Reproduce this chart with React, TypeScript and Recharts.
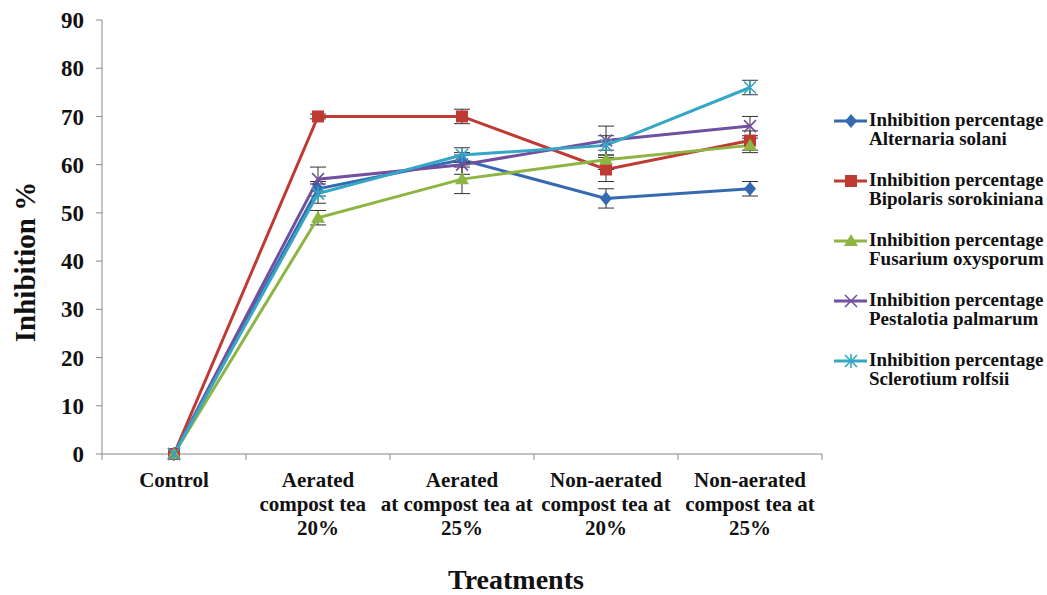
import React from "react";
import { LineChart, Line, XAxis, YAxis, ErrorBar, Label } from "recharts";

const categories = [
  "Control",
  "Aerated compost tea 20%",
  "Aerated at compost tea at 25%",
  "Non-aerated compost tea at 20%",
  "Non-aerated compost tea at 25%",
];
const categoryLines = [
  ["Control"],
  ["Aerated", "compost tea\u00a0\u00a0", "20%"],
  ["Aerated", "at compost tea at\u00a0\u00a0", "25%"],
  ["Non-aerated", "compost tea at", "20%"],
  ["Non-aerated", "compost tea at", "25%"],
];
const alternaria = [0, 55, 61, 53, 55];
const alternariaErr = [0, 1.5, 1.5, 2, 1.5];
const bipolaris = [0, 70, 70, 59, 65];
const bipolarisErr = [0, 0.5, 1.5, 2.5, 2];
const fusarium = [0, 49, 57, 61, 64];
const fusariumErr = [0, 1.5, 3, 2, 1.5];
const pestalotia = [0, 57, 60, 65, 68];
const pestalotiaErr = [0, 2.5, 2, 3, 2];
const sclerotium = [0, 54, 62, 64, 76];
const sclerotiumErr = [0, 2, 1.5, 2, 1.5];
const yTicks = [0, 10, 20, 30, 40, 50, 60, 70, 80, 90];

const seriesInfo = [
  { key: "a", name: "Alternaria solani", color: "#3569B0", marker: "diamond" },
  { key: "b", name: "Bipolaris sorokiniana", color: "#BE3A33", marker: "square" },
  { key: "f", name: "Fusarium oxysporum", color: "#8DB543", marker: "triangle" },
  { key: "p", name: "Pestalotia palmarum", color: "#7150A0", marker: "x" },
  { key: "s", name: "Sclerotium rolfsii", color: "#35A6C4", marker: "star" },
];

const data = categories.map((c, i) => ({
  name: c,
  a: alternaria[i], aErr: alternariaErr[i],
  b: bipolaris[i], bErr: bipolarisErr[i],
  f: fusarium[i], fErr: fusariumErr[i],
  p: pestalotia[i], pErr: pestalotiaErr[i],
  s: sclerotium[i], sErr: sclerotiumErr[i],
}));

const serif = "'Liberation Serif', 'Times New Roman', serif";

function Marker({ cx, cy, color, marker }: any) {
  if (cx == null || cy == null) return null;
  if (marker === "diamond")
    return <path d={`M${cx},${cy - 7}L${cx + 6},${cy}L${cx},${cy + 7}L${cx - 6},${cy}Z`} fill={color} />;
  if (marker === "square")
    return <rect x={cx - 6} y={cy - 6} width={12} height={12} fill={color} />;
  if (marker === "triangle")
    return <path d={`M${cx},${cy - 7}L${cx + 7},${cy + 5}L${cx - 7},${cy + 5}Z`} fill={color} />;
  if (marker === "x")
    return (
      <g stroke={color} strokeWidth={1.6}>
        <line x1={cx - 6} y1={cy - 6} x2={cx + 6} y2={cy + 6} />
        <line x1={cx - 6} y1={cy + 6} x2={cx + 6} y2={cy - 6} />
      </g>
    );
  return (
    <g stroke={color} strokeWidth={1.6}>
      <line x1={cx - 6} y1={cy - 6} x2={cx + 6} y2={cy + 6} />
      <line x1={cx - 6} y1={cy + 6} x2={cx + 6} y2={cy - 6} />
      <line x1={cx} y1={cy - 7} x2={cx} y2={cy + 7} />
    </g>
  );
}

function XTick(props: any) {
  const { x, y, payload, index } = props;
  const off = payload && payload.offset ? payload.offset : 72;
  const lines = categoryLines[index] || [String(payload.value)];
  return (
    <g>
      <line x1={x - off} y1={y - 8} x2={x - off} y2={y - 2} stroke="#888" />
      {index === categories.length - 1 && (
        <line x1={x + off} y1={y - 8} x2={x + off} y2={y - 2} stroke="#888" />
      )}
      <text x={x} y={y} textAnchor="middle" fontFamily={serif} fontWeight="bold" fontSize={21} fill="#111" style={{ whiteSpace: "pre" }}>
        {lines.map((l, i) => (
          <tspan key={i} x={x} dy={i === 0 ? 25 : 24}>
            {l}
          </tspan>
        ))}
      </text>
    </g>
  );
}

function YLabel({ viewBox }: any) {
  const cy = viewBox ? viewBox.y + viewBox.height / 2 + 25 : 262;
  return (
    <text
      x={25}
      y={cy}
      transform={`rotate(-90, 25, ${cy})`}
      textAnchor="middle"
      dominantBaseline="central"
      fontFamily={serif}
      fontWeight="bold"
      fontSize={29}
      fill="#111"
    >
      Inhibition %
    </text>
  );
}

function XLabel({ viewBox }: any) {
  const cx = viewBox ? viewBox.x + viewBox.width / 2 + 54 : 515;
  const by = viewBox ? viewBox.y + viewBox.height - 6 : 589;
  return (
    <text x={cx} y={by} textAnchor="middle" fontFamily={serif} fontWeight="bold" fontSize={28} fill="#111">
      Treatments
    </text>
  );
}

export default function App() {
  return (
    <div style={{ position: "absolute", left: 0, top: 0, width: 1047, height: 595, background: "#fff" }}>
      <LineChart
        width={1047}
        height={595}
        data={data}
        margin={{ top: 20, right: 225, left: 0, bottom: 0 }}
      >
        <XAxis
          dataKey="name"
          scale="band"
          height={141}
          tickLine={false}
          axisLine={{ stroke: "#888" }}
          tick={<XTick />}
          interval={0}
        >
          <Label content={<XLabel />} />
        </XAxis>
        <YAxis
          width={102}
          domain={[0, 90]}
          ticks={yTicks}
          tickSize={6}
          tickLine={{ stroke: "#888" }}
          axisLine={{ stroke: "#888" }}
          tick={{ fontFamily: serif, fontWeight: "bold", fontSize: 23, fill: "#111" }}
          tickMargin={12}
        >
          <Label content={<YLabel />} />
        </YAxis>
        {seriesInfo.map((s) => (
          <Line
            key={s.key}
            type="linear"
            dataKey={s.key}
            name={s.name}
            stroke={s.color}
            strokeWidth={3}
            isAnimationActive={false}
            dot={(p: any) => <Marker key={`${s.key}-${p.index}`} cx={p.cx} cy={p.cy} color={s.color} marker={s.marker} />}
            activeDot={false}
          >
            <ErrorBar dataKey={`${s.key}Err`} width={8} stroke="#333" strokeWidth={1} direction="y" />
          </Line>
        ))}
      </LineChart>
      <div style={{ position: "absolute", left: 834, top: 110, fontFamily: serif, fontWeight: "bold", fontSize: 19, color: "#111" }}>
        {seriesInfo.map((s, i) => (
          <div key={s.key} style={{ position: "absolute", top: i * 60, left: 0, width: 215, lineHeight: "19px" }}>
            <svg width={34} height={14} style={{ position: "absolute", left: 0, top: 4 }}>
              <line x1={0} y1={7} x2={33} y2={7} stroke={s.color} strokeWidth={3} />
              <Marker cx={17} cy={7} color={s.color} marker={s.marker} />
            </svg>
            <div style={{ position: "absolute", left: 35, whiteSpace: "nowrap" }}>
              Inhibition percentage
              <br />
              {s.name}
            </div>
          </div>
        ))}
      </div>
    </div>
  );
}
